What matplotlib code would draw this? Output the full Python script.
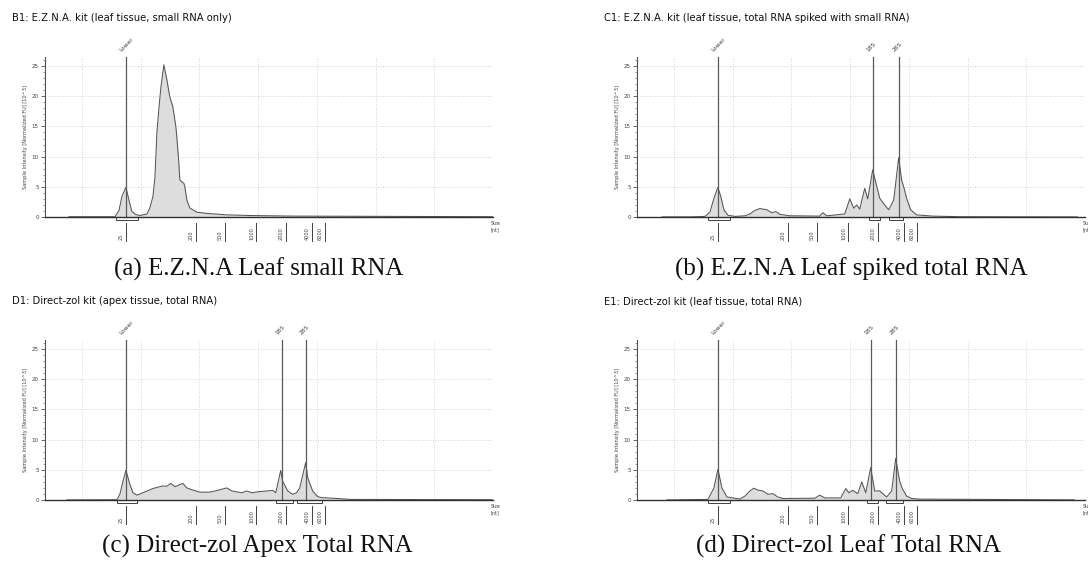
import matplotlib
matplotlib.use("Agg")
import matplotlib.pyplot as plt
from matplotlib.patches import Rectangle

# ---- data (x = migration time, y = FU x10^3)
a_x = [18.89, 22.81, 23.15, 23.40, 23.74, 24.00, 24.25, 24.59, 24.93, 25.53, 25.78, 26.04, 26.21, 26.38,
       26.55, 26.72, 26.97, 27.23, 27.48, 27.74, 27.99, 28.08, 28.25, 28.33, 28.50, 28.67, 28.76, 28.93,
       29.18, 29.78, 30.63, 32.33, 34.29, 37.94, 54.95]
a_y = [0.05, 0.05, 1.1, 3.4, 4.9, 2.8, 0.9, 0.4, 0.25, 0.5, 1.5, 3.4, 6.5, 14.0,
       18.0, 21.5, 25.2, 22.7, 19.9, 18.2, 15.0, 13.2, 8.9, 6.2, 5.8, 5.6, 5.0, 2.8,
       1.5, 0.8, 0.6, 0.35, 0.25, 0.15, 0.05]

b_x = [18.98, 21.36, 22.64, 23.06, 23.40, 23.74, 24.00, 24.25, 24.59, 25.19, 26.04, 26.46, 26.89, 27.31,
       27.91, 28.33, 28.67, 29.01, 29.86, 32.41, 32.67, 33.01, 34.54, 34.97, 35.31, 35.56, 35.82, 36.24,
       36.50, 36.92, 37.52, 37.94, 38.28, 38.71, 39.13, 39.39, 39.56, 39.81, 40.15, 40.66, 42.02, 44.32, 54.35]
b_y = [0.02, 0.02, 0.1, 0.8, 3.1, 4.9, 3.3, 1.2, 0.3, 0.1, 0.2, 0.5, 1.1, 1.4,
       1.2, 0.7, 0.9, 0.45, 0.2, 0.15, 0.7, 0.2, 0.5, 3.0, 1.45, 2.0, 1.3, 4.75,
       3.0, 7.8, 3.1, 2.0, 1.2, 2.8, 9.8, 6.1, 5.0, 3.1, 1.2, 0.35, 0.15, 0.05, 0.02]

c_x = [18.72, 22.98, 23.23, 23.49, 23.74, 24.08, 24.34, 24.68, 25.19, 26.04, 26.80, 27.23, 27.57, 27.91,
       28.59, 28.93, 29.44, 30.03, 30.88, 31.56, 32.33, 32.76, 33.61, 34.03, 34.46, 35.14, 35.82, 36.24,
       36.50, 36.92, 37.09, 37.52, 37.94, 38.28, 38.54, 39.05, 39.22, 39.64, 40.07, 40.41, 41.77, 42.79, 54.95]
c_y = [0.02, 0.05, 1.0, 3.1, 4.9, 2.6, 1.2, 0.8, 1.2, 1.9, 2.3, 2.3, 2.75, 2.2,
       2.75, 2.0, 1.65, 1.3, 1.3, 1.6, 2.0, 1.5, 1.2, 1.5, 1.2, 1.4, 1.5, 1.6,
       1.2, 4.9, 3.1, 1.5, 0.95, 1.2, 2.0, 6.2, 3.7, 1.5, 0.55, 0.4, 0.25, 0.1, 0.05]

d_x = [19.40, 22.89, 23.40, 23.74, 24.08, 24.51, 25.61, 26.04, 26.46, 26.80, 27.14, 27.57, 27.99, 28.42,
       28.84, 29.27, 32.00, 32.41, 32.84, 34.20, 34.63, 34.88, 35.22, 35.65, 35.99, 36.33, 36.75, 37.09,
       37.52, 38.11, 38.54, 38.88, 39.22, 39.47, 39.81, 40.24, 40.92, 54.10]
d_y = [0.02, 0.1, 2.0, 5.1, 2.0, 0.5, 0.15, 0.65, 1.5, 1.95, 1.65, 1.5, 0.95, 1.05,
       0.5, 0.25, 0.3, 0.8, 0.35, 0.35, 1.9, 1.2, 1.6, 1.05, 3.0, 1.2, 5.35, 1.5,
       1.5, 0.5, 1.5, 6.9, 3.1, 1.8, 0.65, 0.25, 0.15, 0.02]

# peak markers (name, position)
a_markers = [("Lower", 23.74)]
b_markers = [("Lower", 23.74), ("18S", 36.92), ("28S", 39.13)]
c_markers = [("Lower", 23.74), ("18S", 37.00), ("28S", 39.05)]
d_markers = [("Lower", 23.74), ("18S", 36.75), ("28S", 38.88)]

# integration boxes under the peaks (start, end)
a_boxes = [(22.89, 24.76)]
b_boxes = [(22.89, 24.76), (36.58, 37.52), (38.28, 39.47)]
c_boxes = [(22.98, 24.68), (36.50, 37.94), (38.28, 40.41)]
d_boxes = [(22.89, 24.76), (36.41, 37.35), (38.03, 39.47)]

# ladder sizes along the bottom
ladder_labels = ["25", "200", "500", "1000", "2000", "4000", "6000"]
ladder_pos = [23.74, 29.69, 32.16, 34.80, 37.35, 39.56, 40.66]

titles = ["B1: E.Z.N.A. kit (leaf tissue, small RNA only)",
          "C1: E.Z.N.A. kit (leaf tissue, total RNA spiked with small RNA)",
          "D1: Direct-zol kit (apex tissue, total RNA)",
          "E1: Direct-zol kit (leaf tissue, total RNA)"]
captions = ["(a) E.Z.N.A Leaf small RNA", "(b) E.Z.N.A Leaf spiked total RNA",
            "(c) Direct-zol Apex Total RNA", "(d) Direct-zol Leaf Total RNA"]

W, H = 1088, 563
XMIN, XMAX = 16.85, 54.95
YMAX = 26.5

fig = plt.figure(figsize=(W / 100, H / 100), dpi=100)


def draw_panel(left, top, x, y, markers, boxes, title, caption, cap_x, cap_y):
    # left/top in pixels
    ax = fig.add_axes([left / W, 1 - (top + 160) / H, 448 / W, 160 / H])
    ax.set_xlim(XMIN, XMAX)
    ax.set_ylim(0, YMAX)

    for s in ["top", "right"]:
        ax.spines[s].set_visible(False)
    ax.spines["left"].set_color("#505050")
    ax.spines["left"].set_linewidth(0.8)
    ax.spines["bottom"].set_color("#303030")
    ax.spines["bottom"].set_linewidth(1.0)

    ax.set_xticks(range(20, 56, 5))
    ax.tick_params(axis="x", length=0, labelbottom=False)
    ax.set_yticks([0, 5, 10, 15, 20, 25])
    ax.set_yticks(range(0, 27), minor=True)
    ax.tick_params(axis="y", which="major", length=3, width=0.6, labelsize=4, pad=1.5,
                   color="#505050", labelcolor="#404040")
    ax.tick_params(axis="y", which="minor", length=1.5, width=0.5, color="#707070")
    ax.grid(True, which="major", linestyle=(0, (1, 2)), color="#c4c4c4", linewidth=0.6)
    ax.set_axisbelow(True)

    ax.set_ylabel("Sample Intensity [Normalized FU] [10^3]", fontsize=3.6, color="#404040")
    ax.yaxis.set_label_coords(-17 / 448, 0.5)

    ax.fill_between(x, y, 0, color="#dddddd", lw=0)
    ax.plot(x, y, color="#555555", lw=0.75)

    for name, pos in markers:
        ax.plot([pos, pos], [0, YMAX], color="#5a5a5a", lw=0.9, clip_on=False)
        ax.text(pos - 0.3, YMAX + 0.7, name, rotation=45, fontsize=4.2, color="#404040",
                ha="left", va="bottom", rotation_mode="anchor")

    for x0, x1 in boxes:
        ax.add_patch(Rectangle((x0, -0.5), x1 - x0, 0.5, fill=False, edgecolor="#404040",
                               lw=0.7, clip_on=False))

    for lab, pos in zip(ladder_labels, ladder_pos):
        ax.plot([pos, pos], [-1.0, -3.9], color="#404040", lw=0.7, clip_on=False)
        ax.text(pos - 0.15, -3.8, lab, rotation=90, fontsize=3.6, color="#404040",
                ha="right", va="bottom")

    # axis unit text at the right end (cut by the figure edge on the right panels)
    ax.text(XMAX - 0.15, -0.6, "Size\n[nt]", fontsize=3.4, color="#404040",
            ha="left", va="top", linespacing=1.3)

    fig.text((left - 33) / W, 1 - (top - 39) / H, title, fontsize=7.2, va="center",
             family="DejaVu Sans", color="#111111")
    fig.text(cap_x / W, 1 - cap_y / H, caption, fontsize=18, ha="center", va="center",
             family="Liberation Serif", color="#111111")
    return ax


draw_panel(45, 57, a_x, a_y, a_markers, a_boxes, titles[0], captions[0], 259, 269)
draw_panel(637, 57, b_x, b_y, b_markers, b_boxes, titles[1], captions[1], 851, 269)
draw_panel(45, 340, c_x, c_y, c_markers, c_boxes, titles[2], captions[2], 257, 546)
draw_panel(637, 340, d_x, d_y, d_markers, d_boxes, titles[3], captions[3], 849, 546)

fig.savefig("out.png", dpi=100)
